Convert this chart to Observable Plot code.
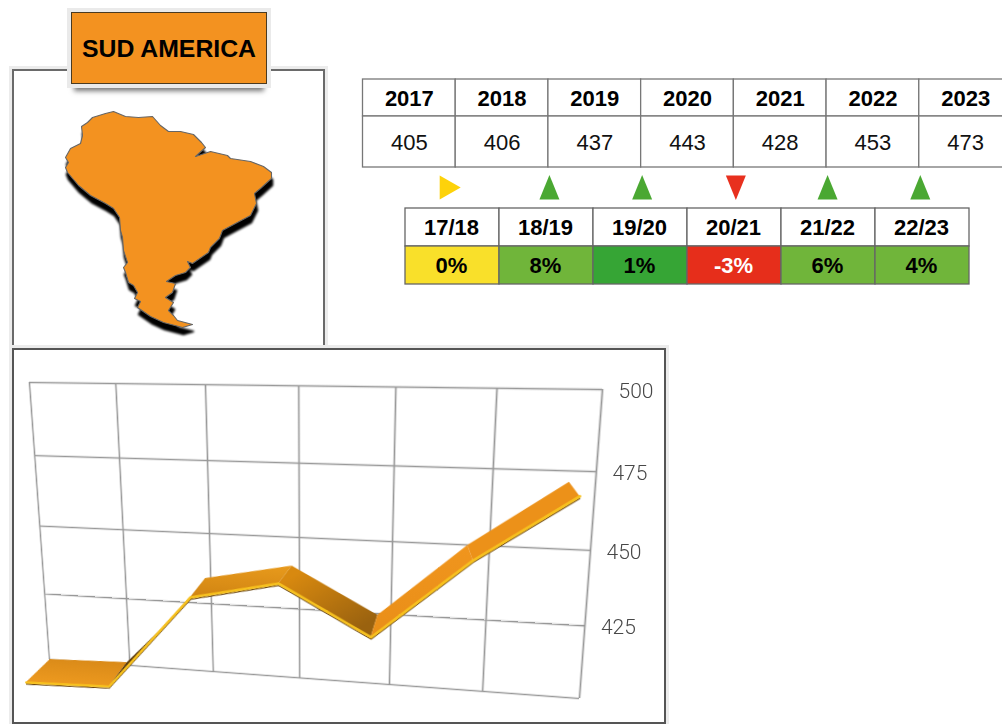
<!DOCTYPE html>
<html><head><meta charset="utf-8">
<script src="https://cdn.jsdelivr.net/npm/d3@7"></script>
<script src="https://cdn.jsdelivr.net/npm/@observablehq/plot@0.6"></script>
<style>
html,body{margin:0;padding:0;width:1002px;height:724px;overflow:hidden;background:#fff;font-family:"Liberation Sans",Arial,sans-serif}
.abs{position:absolute}
.frame{box-sizing:border-box;background:#fff;border:2px solid #6a6a6a;box-shadow:0 0 0 3px #ececec}
#title{left:71px;top:12px;width:196px;height:72px;box-sizing:border-box;background:#f39220;border:1.5px solid #4a3a20;outline:4px solid #eaeaea;
 box-shadow:0 10px 5px -3px #777;color:#000;font-weight:700;font-size:24.8px;line-height:71px;text-align:center;white-space:nowrap}
</style></head><body>
<div id="root"></div>
<script>
// ---- data ----
const years = [2017, 2018, 2019, 2020, 2021, 2022, 2023];
const volumes = [405, 406, 437, 443, 428, 453, 473];
const periods = ["17/18", "18/19", "19/20", "20/21", "21/22", "22/23"];
const changes = ["0%", "8%", "1%", "-3%", "6%", "4%"];
const changeColors = ["#f9e02a", "#70b53a", "#36a535", "#e62e1b", "#70b53a", "#70b53a"];
const arrowDirections = ["right", "up", "up", "down", "up", "up"];
const arrowColors = ["#fdd20a", "#4aa832", "#4aa832", "#e8301e", "#4aa832", "#4aa832"];
const ribbonBackX = [0.01, 0.97, 1.94, 2.92, 3.86, 4.78, 5.75];
const ribbonBackY = [400, 401, 434, 440, 424.4, 449.8, 471.4];
const ribbonFrontX = [-0.32, 0.73, 1.76, 2.77, 3.79, 4.84, 5.86];
const ribbonFrontY = [390.2, 391.2, 426.9, 433.6, 416.5, 444.9, 467.1];
const ribbonRiseBackX = [0.97, 1.79];
const ribbonRiseBackY = [401, 426.6];
const chartTicks = [425, 450, 475, 500];
const gridValues = [400, 425, 450, 475, 500];
const gridColumns = [0, 1, 2, 3, 4, 5, 6];
const outlineX = [113,125,138,152,160,168,180,193,201,205,195,210,227,230,250,263,271,271,260,254,256,250,235,222,219,210,208,192,187,190,185,175,166,175,172,165,173,168,173,177,192,182,163,150,137,140,134,137,133,128,125,123,127,123,122,120,119,113,105,90,78,67,65,68,65,70,80,82,81,87,92,105];
const outlineY = [111,116,117,116,125,131,131,134,142,147,156,151,155,158,161,166,172,178,188,193,203,215,223,230,238,247,252,263,261,267,272,275,281,283,292,297,302,310,315,320,324,327,322,316,307,301,298,292,285,282,272,267,262,250,237,230,217,208,203,195,185,172,167,162,157,148,143,135,126,122,117,113];

const root = document.getElementById("root");
function place(el, left, top) {
  el.style.position = "absolute"; el.style.left = left + "px"; el.style.top = top + "px";
  el.style.background = "transparent"; el.style.maxWidth = "none"; el.style.overflow = "visible";
  root.appendChild(el); return el;
}
function box(cls, css, id, text) {
  const d = document.createElement("div"); d.className = "abs " + cls; if (id) d.id = id;
  Object.assign(d.style, css); if (text) d.textContent = text; root.appendChild(d); return d;
}
const font = '"Liberation Sans",Arial,sans-serif';

// map panel
box("frame", {left:"12px", top:"69px", width:"313px", height:"290px"});
const outline = outlineX.map((x, i) => ({x, y: outlineY[i]}));
outline.push(outline[0]);
const mapScales = {width: 340, height: 350, margin: 0, axis: null, x: {domain: [0, 340], range: [0, 340]}, y: {domain: [0, 350], range: [0, 350]}};
const mapShadow = place(Plot.plot({...mapScales, marks: [
  Plot.line(outline, {x: "x", y: "y", fill: "#000", stroke: "#000", strokeWidth: 1.5, dx: 1, dy: 7})
]}), 0, 0);
mapShadow.style.filter = "blur(0.8px)";
place(Plot.plot({...mapScales, marks: [
  Plot.line(outline, {x: "x", y: "y", fill: "#f39220", stroke: "#666", strokeWidth: 1.1})
]}), 0, 0);
box("", {}, "title", "SUD AMERICA");

// year table with change arrows on the year boundaries
const yearCells = years.map((year, i) => ({year, volume: volumes[i]}));
const upGlyph = {draw(c) { c.moveTo(0, -12.5); c.lineTo(10, 12); c.lineTo(-10, 12); c.closePath(); }};
const downGlyph = {draw(c) { c.moveTo(0, 12.5); c.lineTo(10, -12); c.lineTo(-10, -12); c.closePath(); }};
const rightGlyph = {draw(c) { c.moveTo(10.5, 0); c.lineTo(-10.5, -12); c.lineTo(-10.5, 12); c.closePath(); }};
const arrows = periods.map((p, i) => ({edge: years[i] + 1, dir: arrowDirections[i], color: arrowColors[i], period: p}));
place(Plot.plot({
  width: 652, height: 135, margin: 0, axis: null,
  x: {domain: [2017, 2024], range: [12.5, 661.5]},
  y: {domain: [0, 135], range: [0, 135]},
  marks: [
    Plot.rect(yearCells, {x1: "year", x2: d => d.year + 1, y1: 9, y2: 46, fill: "#fff", stroke: "#777", strokeWidth: 1.3}),
    Plot.rect(yearCells, {x1: "year", x2: d => d.year + 1, y1: 46, y2: 97, fill: "#fff", stroke: "#777", strokeWidth: 1.3}),
    Plot.text(yearCells, {x: d => d.year + 0.5, y: 28.5, text: d => String(d.year), fontSize: 22, fontWeight: 700, fontFamily: font, fill: "#000"}),
    Plot.text(yearCells, {x: d => d.year + 0.5, y: 72.5, text: d => String(d.volume), fontSize: 22, fontFamily: font, fill: "#111"}),
    Plot.dot(arrows.filter(d => d.dir === "up"), {x: "edge", y: 117, r: 1, dx: 1, symbol: upGlyph, fill: "color", stroke: "none"}),
    Plot.dot(arrows.filter(d => d.dir === "down"), {x: "edge", y: 117, r: 1, dx: 2, symbol: downGlyph, fill: "color", stroke: "none"}),
    Plot.dot(arrows.filter(d => d.dir === "right"), {x: "edge", y: 117, r: 1, dx: -5.5, symbol: rightGlyph, fill: "color", stroke: "none"})
  ]
}), 350, 70);

// change table
const changeCells = periods.map((period, i) => ({period, change: changes[i], color: changeColors[i]}));
place(Plot.plot({
  width: 570, height: 80, margin: 0, axis: null,
  x: {domain: periods, range: [1, 565], padding: 0, type: "band"},
  y: {domain: ["head", "change"], range: [1, 77], padding: 0, type: "band"},
  marks: [
    Plot.cell(changeCells, {x: "period", y: () => "head", fill: "#fff", stroke: "#666", strokeWidth: 1.3}),
    Plot.cell(changeCells, {x: "period", y: () => "change", fill: "color", stroke: "#666", strokeWidth: 1.3}),
    Plot.text(changeCells, {x: "period", y: () => "head", text: "period", dx: -1, fontSize: 22, fontWeight: 700, fontFamily: font, fill: "#000"}),
    Plot.text(changeCells, {x: "period", y: () => "change", text: "change", dx: -1, fontSize: 22, fontWeight: 700, fontFamily: font, fill: d => d.change.startsWith("-") ? "#fff" : "#000"})
  ]
}), 404, 207);

// chart panel
box("frame", {left:"12px", top:"348px", width:"654px", height:"376px", borderColor:"#555"});
const ml = 60, mt = 30, pw = 600, ph = 300;
const back = ribbonBackX.map((x, i) => ({x, y: ribbonBackY[i]}));
const front = ribbonFrontX.map((x, i) => ({x, y: ribbonFrontY[i]}));
const faces = d3.range(6).map(i => [i, i + 1].map(k => ({bx: back[k].x, by: back[k].y, fx: front[k].x, fy: front[k].y})));
const rise = [1, 2].map((k, j) => ({bx: ribbonRiseBackX[j], by: ribbonRiseBackY[j], fx: front[k].x, fy: front[k].y}));
const faceFills = ["url(#f0)", null, "url(#f2)", "url(#f3)", "url(#f4)", "#ec9119"];
const gradients = () => {
  const defs = d3.create("svg:defs");
  [["f0", "#d98a18", "#ee9a1f", 90], ["f2", "#e89a1c", "#d08412", 90], ["f3", "#d8890f", "#9a620f", 45], ["f4", "#f0951d", "#e98e18", 90]].forEach(([id, a, b, ang]) => {
    const g = defs.append("linearGradient").attr("id", id).attr("gradientTransform", `rotate(${ang} .5 .5)`);
    g.append("stop").attr("offset", 0).attr("stop-color", a);
    g.append("stop").attr("offset", 1).attr("stop-color", b);
  });
  return defs.node();
};
const chart = Plot.plot({
  width: ml + pw + 90, height: mt + ph + 70,
  marginLeft: ml, marginTop: mt, marginRight: 90, marginBottom: 70,
  x: {domain: [0, 6], axis: null},
  y: {domain: [400, 500], axis: null},
  marks: [
    gradients,
    Plot.ruleX(gridColumns, {stroke: "#999", strokeWidth: 1.7, y1: 400, y2: 500}),
    Plot.ruleY(gridValues, {stroke: "#999", strokeWidth: 1.7, x1: 0, x2: 6}),
    ...faces.map((seg, i) => i === 1
      ? Plot.area(rise, {x1: "bx", y1: "by", x2: "fx", y2: "fy", fill: "#5c3b0d"})
      : Plot.area(seg, {x1: "bx", y1: "by", x2: "fx", y2: "fy", fill: faceFills[i]})),
    Plot.line(front, {x: "x", y: "y", stroke: "#6b450e", strokeWidth: 1.2, dy: 2}),
    Plot.line(front, {x: "x", y: "y", stroke: "#f7c11e", strokeWidth: 2.8})
  ]
});
place(chart, 0, 0);
// perspective: the four grid corners onto the tilted panel
const P = [[29, 382], [602, 389], [579, 698], [49, 659]];
const sx = P[0][0]-P[1][0]+P[2][0]-P[3][0], sy = P[0][1]-P[1][1]+P[2][1]-P[3][1];
const dx1 = P[1][0]-P[2][0], dx2 = P[3][0]-P[2][0], dy1 = P[1][1]-P[2][1], dy2 = P[3][1]-P[2][1];
const det = dx1*dy2 - dx2*dy1;
const g = (sx*dy2 - dx2*sy)/det, h = (dx1*sy - sx*dy1)/det;
const a = P[1][0]-P[0][0]+g*P[1][0], b = P[3][0]-P[0][0]+h*P[3][0], c = P[0][0];
const d = P[1][1]-P[0][1]+g*P[1][1], e = P[3][1]-P[0][1]+h*P[3][1], f = P[0][1];
const H = [[a,b,c],[d,e,f],[g,h,1]];
const T = [[1/pw,0,-ml/pw],[0,1/ph,-mt/ph],[0,0,1]];
const M = H.map(r => [0,1,2].map(j => r[0]*T[0][j]+r[1]*T[1][j]+r[2]*T[2][j]));
chart.style.transformOrigin = "0 0";
chart.style.transform = `matrix3d(${M[0][0]},${M[1][0]},0,${M[2][0]},${M[0][1]},${M[1][1]},0,${M[2][1]},0,0,1,0,${M[0][2]},${M[1][2]},0,${M[2][2]})`;

// upright tick labels beside the projected right edge of the grid
const edgePoint = value => {
  const v = (500 - value) / 100, w = g + h * v + 1;
  return [(a + b * v + c) / w, (d + e * v + f) / w];
};
place(Plot.plot({
  width: 1002, height: 724, margin: 0, axis: null,
  x: {domain: [0, 1002], range: [0, 1002]},
  y: {domain: [0, 724], range: [0, 724]},
  marks: [
    Plot.text(chartTicks, {x: t => edgePoint(t)[0] + 16, y: t => edgePoint(t)[1] + 1.5, text: t => String(t), textAnchor: "start", fontSize: 21, fontFamily: "Roboto", fontWeight: 300, fill: "#484848"})
  ]
}), 0, 0);
</script>
</body></html>
